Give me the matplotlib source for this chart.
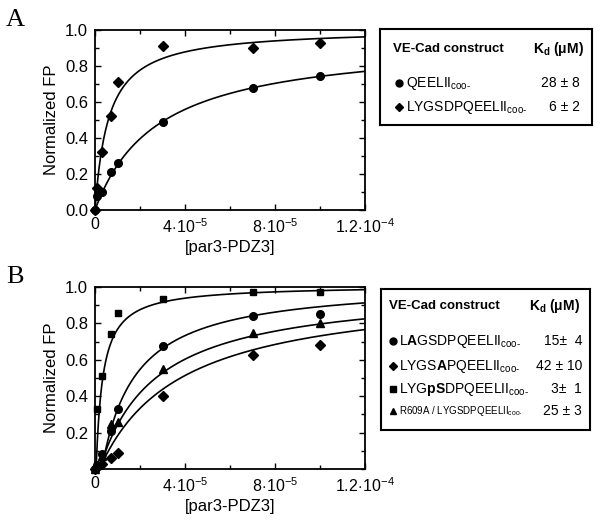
import numpy as np
import matplotlib
matplotlib.use("Agg")
import matplotlib.pyplot as plt
from matplotlib.ticker import FixedLocator, MultipleLocator

plt.rcParams['font.family'] = ['Liberation Sans', 'DejaVu Sans']
plt.rcParams['mathtext.fontset'] = 'custom'
plt.rcParams['mathtext.rm'] = 'Liberation Sans'
plt.rcParams['mathtext.bf'] = 'Liberation Sans:bold'
plt.rcParams['mathtext.it'] = 'Liberation Sans:italic'

# ---------------- data ----------------
conc = [0, 0.1e-5, 0.3e-5, 0.7e-5, 1e-5, 3e-5, 7e-5, 10e-5]

# Panel A
a_qeelii = [0, 0.08, 0.10, 0.21, 0.26, 0.49, 0.68, 0.745]
a_lygsd = [0, 0.12, 0.32, 0.52, 0.71, 0.91, 0.90, 0.93]
# fit parameters (Bmax, Kd, x0) for the drawn curves
a_fit_qeelii = (0.95, 2.8e-5, 0.0)
a_fit_lygsd = (1.01, 0.6e-5, 0.0)

# Panel B
b_lagsd = [0, 0.02, 0.08, 0.21, 0.33, 0.675, 0.84, 0.85]
b_lygsa = [0, 0.01, 0.03, 0.06, 0.09, 0.40, 0.627, 0.68]
b_lygps = [0, 0.33, 0.51, 0.74, 0.855, 0.935, 0.97, 0.97]
b_r609a = [0, 0.02, 0.07, 0.25, 0.26, 0.55, 0.745, 0.80]
b_fit_lagsd = (1.03, 1.5e-5, 0.3e-5)
b_fit_lygsa = (1.0, 3.6e-5, 0.2e-5)
b_fit_lygps = (1.01, 0.3e-5, 0.05e-5)
b_fit_r609a = (1.0, 2.5e-5, 0.2e-5)

xticks = [0, 4e-5, 8e-5, 1.2e-4]
xticklabels = ['0', r'$4\!\cdot\!10^{-5}$', r'$8\!\cdot\!10^{-5}$', r'$1.2\!\cdot\!10^{-4}$']

SUB = '$_{\\mathrm{coo\u2010}}$'
legend_a_names = ['QEELII' + SUB, 'LYGSDPQEELII' + SUB]
legend_a_kd = ['28 ± 8', '6 ± 2']
legend_b_names = [r'L$\mathbf{A}$GSDPQEELII' + SUB,
                  r'LYGS$\mathbf{A}$PQEELII' + SUB,
                  r'LYG$\mathbf{pS}$DPQEELII' + SUB,
                  r'R609A / LYGSDPQEELII' + SUB]
legend_b_kd = ['15±  4', '42 ± 10', '3±  1', '25 ± 3']

W, H = 600, 521
fig = plt.figure(figsize=(W / 100, H / 100), dpi=100)


def fx(px):
    return px / W


def fy(py):
    return 1 - py / H


def curve(x, p):
    B, K, x0 = p
    xs = np.clip(x - x0, 0, None)
    return B * xs / (K + xs)


xfine = np.linspace(0, 1.2e-4, 600)


def setup(ax, show_zero):
    ax.set_xlim(0, 1.2e-4)
    ax.set_ylim(0, 1.0)
    ax.xaxis.set_major_locator(FixedLocator(xticks))
    ax.set_xticklabels(xticklabels)
    ax.xaxis.set_minor_locator(MultipleLocator(2e-5))
    if show_zero:
        yt = [0.0, 0.2, 0.4, 0.6, 0.8, 1.0]
    else:
        yt = [0.2, 0.4, 0.6, 0.8, 1.0]
    ax.set_yticks(yt)
    ax.set_yticklabels(['%.1f' % v for v in yt])
    ax.yaxis.set_minor_locator(MultipleLocator(0.1))
    ax.tick_params(which='both', direction='in', top=True, right=True,
                   labelsize=12, width=1.0, pad=5)
    ax.tick_params(axis='x', labelsize=11.5)
    ax.tick_params(which='major', length=4)
    ax.tick_params(which='minor', length=3)
    for s in ax.spines.values():
        s.set_linewidth(1.3)
    ax.set_ylabel('Normalized FP', fontsize=12, labelpad=4)
    ax.set_xlabel('[par3-PDZ3]', fontsize=12, labelpad=3)


# Panel A
axA = fig.add_axes([fx(95), fy(210), fx(270), 180 / H])
axA.set_zorder(1)
axA.plot(xfine, curve(xfine, a_fit_qeelii), color='black', lw=1.2)
axA.plot(xfine, curve(xfine, a_fit_lygsd), color='black', lw=1.2)
axA.plot(conc, a_qeelii, 'o', color='black', ms=5.5, clip_on=False)
axA.plot(conc, a_lygsd, 'D', color='black', ms=5, clip_on=False)
setup(axA, True)

# Panel B
axB = fig.add_axes([fx(95), fy(469), fx(270), 182 / H])
axB.set_zorder(1)
for p in (b_fit_lagsd, b_fit_lygsa, b_fit_lygps, b_fit_r609a):
    axB.plot(xfine, curve(xfine, p), color='black', lw=1.2)
axB.plot(conc, b_lagsd, 'o', color='black', ms=5.5, clip_on=False)
axB.plot(conc, b_lygsa, 'D', color='black', ms=5, clip_on=False)
axB.plot(conc, b_lygps, 's', color='black', ms=5, clip_on=False)
axB.plot(conc, b_r609a, '^', color='black', ms=6, clip_on=False)
setup(axB, False)

# panel letters
fig.text(fx(6), fy(20), 'A', fontsize=19, family='Liberation Serif', va='center', ha='left')
fig.text(fx(6), fy(277), 'B', fontsize=19, family='Liberation Serif', va='center', ha='left')


def legend_box(left, right, top, bottom):
    bx = fig.add_axes([fx(left), fy(bottom), (right - left) / W, (bottom - top) / H])
    bx.set_zorder(10)
    bx.set_facecolor('white')
    bx.patch.set_alpha(1.0)
    bx.set_xlim(left, right)
    bx.set_ylim(bottom, top)
    bx.set_xticks([])
    bx.set_yticks([])
    for s in bx.spines.values():
        s.set_linewidth(1.5)
    return bx


# Legend A
bxA = legend_box(380, 592, 29, 125)
bxA.text(393, 49, 'VE-Cad construct', fontsize=9.5, fontweight='bold', va='center', ha='left')
bxA.text(584, 49, r'K$_{\mathbf{d}}$ (μM)', fontsize=10, fontweight='bold', va='center', ha='right')
markersA = ['o', 'D']
ysA = [83, 107]
for m, y, name, kd in zip(markersA, ysA, legend_a_names, legend_a_kd):
    bxA.plot([399], [y], m, color='black', ms=5 if m == 'o' else 4.5)
    bxA.text(406, y, name, fontsize=10, va='center', ha='left')
    bxA.text(580, y, kd, fontsize=10, va='center', ha='right')

# Legend B
bxB = legend_box(381, 590, 289, 430)
bxB.text(389, 306, 'VE-Cad construct', fontsize=9.5, fontweight='bold', va='center', ha='left')
bxB.text(580, 306, r'K$_{\mathbf{d}}$ (μM)', fontsize=10, fontweight='bold', va='center', ha='right')
markersB = ['o', 'D', 's', '^']
ysB = [341, 366, 389, 411]
for i, (m, y, name, kd) in enumerate(zip(markersB, ysB, legend_b_names, legend_b_kd)):
    bxB.plot([393], [y], m, color='black', ms=5 if m != 'D' else 4.5)
    fs = 7 if i == 3 else 10
    bxB.text(399, y, name, fontsize=fs, va='center', ha='left')
    bxB.text(582, y, kd, fontsize=10, va='center', ha='right')

fig.savefig('out.png', dpi=100)
